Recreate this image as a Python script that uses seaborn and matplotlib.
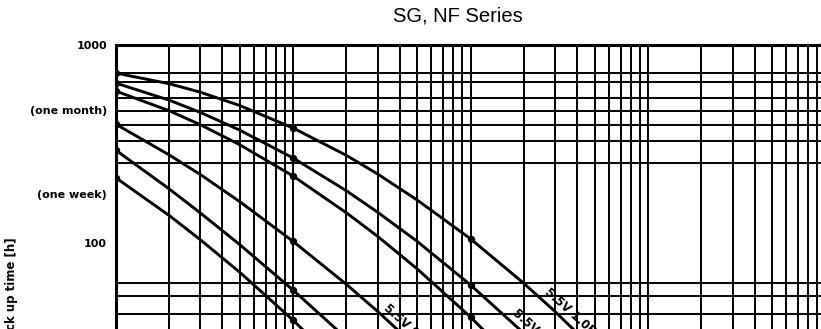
import numpy as np
import pandas as pd
import matplotlib
matplotlib.use("Agg")
import matplotlib.pyplot as plt
from matplotlib.ticker import LogLocator, FixedLocator, NullFormatter
import seaborn as sns

# Back-up time [h] versus load, one series per capacitor rating
series_names = ["5.5V 1.0F", "5.5V 0.47F", "5.5V 0.22F",
                "5.5V 0.1F", "5.5V 0.047F", "5.5V 0.022F"]

load_1 = [1, 2, 3, 5, 10, 20, 30, 50, 100, 200, 300, 500]
hours_1 = [722, 638, 578, 495, 381, 277, 223, 165, 105, 62.5, 45, 28.8]

load_2 = [1, 2, 3, 5, 10, 20, 30, 50, 100, 200, 300]
hours_2 = [643, 527, 457, 372, 269, 183.5, 143, 102, 61.4, 35.0, 24.5]

load_3 = [1, 2, 3, 5, 10, 20, 30, 50, 100, 200]
hours_3 = [586, 466, 396, 314, 218, 142, 108, 74.1, 42.3, 22.7]

load_4 = [1, 2, 3, 5, 10, 20, 30, 50]
hours_4 = [399, 279, 222, 162, 102, 61.8, 45.1, 29.6]

load_5 = [1, 2, 3, 5, 10, 20, 30]
hours_5 = [295, 188, 142, 98.3, 57.9, 33.0, 23.4]

load_6 = [1, 2, 3, 5, 10, 20]
hours_6 = [214, 138, 104, 71.3, 40.8, 22.2]

# Measured points marked with a dot
marked_loads = [1, 10, 100]

# Horizontal ruling of the chart paper
hour_rules = [722, 650, 540, 464, 394, 327, 253.6, 177, 100, 62.9, 54.2, 43.7]
hour_ticks = [1000, 470, 177, 100]
hour_tick_labels = ["1000", "(one month)", "(one week)", "100"]

loads = [load_1, load_2, load_3, load_4, load_5, load_6]
hours = [hours_1, hours_2, hours_3, hours_4, hours_5, hours_6]

frames = []
for name, xs, ys in zip(series_names, loads, hours):
    frames.append(pd.DataFrame({"series": name, "load": xs, "hours": ys}))
df = pd.concat(frames, ignore_index=True)
dots = df[df["load"].isin(marked_loads)]

sns.set_theme(style="white")
plt.rcParams["font.family"] = ["DejaVu Sans"]

W, H = 821, 329
fig = plt.figure(figsize=(W / 100, H / 100), dpi=100)
left_px, top_px = 115.5, 45
ax = fig.add_axes([left_px / W, 0, 1 - left_px / W, (H - top_px) / H])

ax.set_xscale("log")
ax.set_yscale("log")

palette = {n: "black" for n in series_names}
sns.lineplot(data=df, x="load", y="hours", hue="series", palette=palette,
             estimator=None, sort=False, legend=False, linewidth=2.1, ax=ax,
             zorder=3)
sns.scatterplot(data=dots, x="load", y="hours", color="black", s=28,
                edgecolor="black", linewidth=0, legend=False, ax=ax, zorder=4)

# Visible window of the chart
decade_x, decade_y = 177.5, 198.0
ax.set_xlim(1, 10 ** ((W - left_px) / decade_x))
ax.set_ylim(10 ** (3 - (H - top_px) / decade_y), 1000)

ax.xaxis.set_major_locator(LogLocator(base=10, numticks=10))
ax.xaxis.set_minor_locator(LogLocator(base=10, subs=np.arange(2, 10), numticks=100))
ax.xaxis.set_major_formatter(NullFormatter())
ax.xaxis.set_minor_formatter(NullFormatter())

ax.yaxis.set_major_locator(FixedLocator(hour_ticks))
ax.yaxis.set_minor_locator(FixedLocator(hour_rules))
ax.set_yticklabels(hour_tick_labels)
ax.yaxis.set_minor_formatter(NullFormatter())

ax.tick_params(axis="both", which="both", length=0)
ax.tick_params(axis="y", which="major", pad=6, labelsize=8, labelcolor="black")
for lab in ax.get_yticklabels():
    lab.set_fontweight("bold")

ax.grid(False)
ax.grid(True, which="both", axis="x", color="black", linewidth=1.4)
ax.grid(True, which="minor", axis="y", color="black", linewidth=1.4)
ax.set_axisbelow(True)

for side in ("right", "bottom"):
    ax.spines[side].set_visible(False)
for side in ("top", "left"):
    ax.spines[side].set_color("black")
    ax.spines[side].set_linewidth(2.2)

ax.set_xlabel("")
ax.set_ylabel("")

# Inline capacitor labels along the curves
label_spots = [(series_names[0], 260, 55.8), (series_names[1], 171.6, 44.0),
               (series_names[3], 32.0, 46.4)]
for text, lx, ly in label_spots:
    ax.text(lx, ly, text, rotation=-42, rotation_mode="anchor",
            ha="left", va="baseline", fontsize=8.5, fontweight="bold",
            color="black", zorder=5)

fig.text(458 / W, 1 - 15.5 / H, "SG, NF Series", ha="center", va="center",
         fontsize=14.5, family=["Liberation Sans", "DejaVu Sans"], color="black")
fig.text(12 / W, 1 - 237 / H, "Back up time [h]", rotation=90, ha="center",
         va="top", fontsize=8.5, fontweight="bold", color="black")

fig.savefig("out.png", dpi=100, facecolor="white")
